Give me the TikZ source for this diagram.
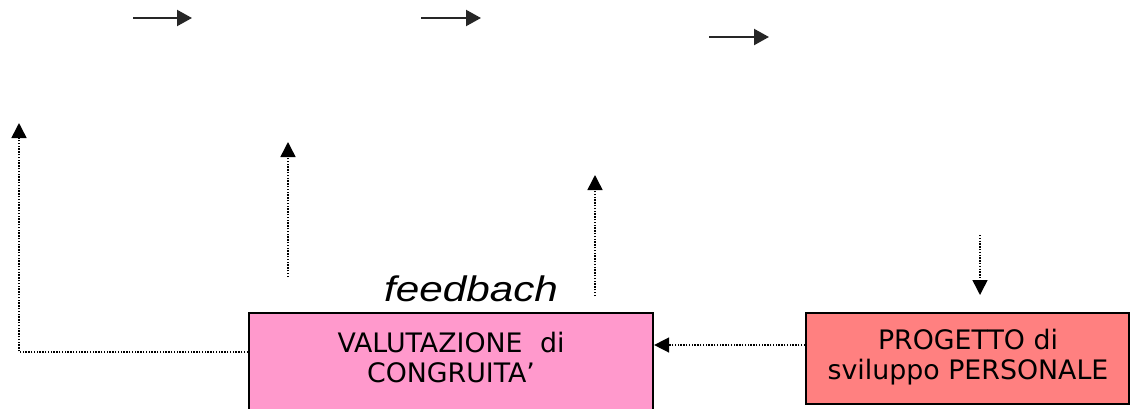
\documentclass[tikz,border=0pt]{standalone}
\usepackage{fontspec}
\setmainfont{DejaVu Sans}
\newfontfamily\fbfont{Liberation Sans}
\usetikzlibrary{arrows.meta,calc}
\definecolor{boxpink}{HTML}{FF99CC}
\definecolor{boxred}{HTML}{FF8080}
\begin{document}
\begin{tikzpicture}[x=1pt,y=-1pt,
  boxstyle/.style={draw=black, line width=2.2pt, inner sep=0pt},
  boxtext/.style={font=\fontsize{26.8}{30}\selectfont, align=center, inner sep=0pt},
  solidarrow/.style={line width=2.2pt, draw=black!85, -{Triangle[length=15pt,width=16pt]}},
  dotarrow/.style={line width=1.5pt, dash pattern=on 1.4pt off 1.4pt, -{Triangle[length=15pt,width=15pt]}}]
\useasboundingbox (0,0) rectangle (1130,408);
\clip (0,0) rectangle (1130,408);

% boxes
\node[boxstyle, fill=boxpink, minimum width=404pt, minimum height=107pt] (val) at (451,366.5) {};
\node[boxtext] (valt) at (451,358) {VALUTAZIONE\hspace{0.65em}di\\CONGRUITA’};
\node[boxstyle, fill=boxred, minimum width=323pt, minimum height=91pt] (red) at (967.5,358.5) {};
\node[boxtext] (redt) at (968,357) {PROGETTO di\\sviluppo PERSONALE};

% feedbach label
\node[inner sep=0pt, anchor=base] (fb) at (471,301) {\scalebox{1.19}[1]{\fbfont\itshape\fontsize{35.5}{40}\selectfont feedbach}};

% top solid arrows
\coordinate (a1s) at (133,18); \coordinate (a1e) at (192,18);
\coordinate (a2s) at (421,18); \coordinate (a2e) at (481,18);
\coordinate (a3s) at (709,37); \coordinate (a3e) at (769,37);
\draw[solidarrow] (a1s) -- (a1e);
\draw[solidarrow] (a2s) -- (a2e);
\draw[solidarrow] (a3s) -- (a3e);

% dotted vertical arrows
\coordinate (u1s) at (288,277); \coordinate (u1e) at (288,142);
\coordinate (u2s) at (595,296); \coordinate (u2e) at (595,175);
\coordinate (d1s) at (980,235); \coordinate (d1e) at (980,295);
\draw[dotarrow] (u1s) -- (u1e);
\draw[dotarrow] (u2s) -- (u2e);
\draw[dotarrow] (d1s) -- (d1e);

% red -> val
\coordinate (r1) at ([yshift=13.5pt]red.west);
\draw[dotarrow] (r1) -- (r1 -| val.east);

% val -> left loop up
\coordinate (l1) at ([yshift=14.5pt]val.west);
\coordinate (lt) at (19,123);
\draw[dotarrow] (l1) -| (lt);
\end{tikzpicture}
\end{document}
